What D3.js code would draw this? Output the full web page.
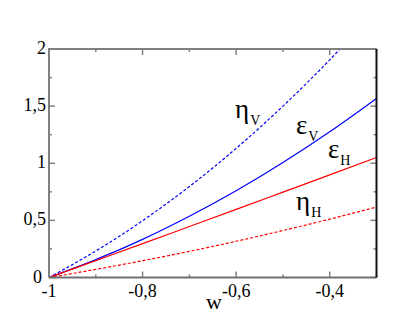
<!DOCTYPE html>
<html><head><meta charset="utf-8">
<script src="https://cdn.jsdelivr.net/npm/d3@7"></script>
<style>body{margin:0;background:#fff}svg{display:block}text{font-family:"Liberation Serif","Times New Roman",serif}</style>
</head><body>
<script>
const wValues = [-1, -0.9, -0.8, -0.7, -0.6, -0.5, -0.4, -0.3];
const etaV = [0, 0.232, 0.497, 0.796, 1.130, 1.500, 1.905, 2.35];
const epsV = [0, 0.156, 0.334, 0.536, 0.759, 1.006, 1.275, 1.567];
const epsH = [0, 0.148, 0.296, 0.446, 0.596, 0.747, 0.898, 1.050];
const etaH = [0, 0.071, 0.147, 0.229, 0.317, 0.411, 0.511, 0.617];
const xTickVals = [-1, -0.8, -0.6, -0.4];
const xTickLabels = ["-1", "-0,8", "-0,6", "-0,4"];
const yTickVals = [0, 0.5, 1, 1.5, 2];
const yTickLabels = ["0", "0,5", "1", "1,5", "2"];

const W = 409, H = 327;
const L = 49, T = 49, R = 376.5, B = 277.5;
const svg = d3.select("body").append("svg").attr("width", W).attr("height", H);
const x = d3.scaleLinear().domain([-1, -0.3]).range([L, R]);
const y = d3.scaleLinear().domain([0, 2]).range([B, T]);

svg.append("clipPath").attr("id", "clip").append("rect")
  .attr("x", L).attr("y", T).attr("width", R - L).attr("height", B - T);

const series = [
  {v: etaV, color: "#0000ff", dash: "3,2"},
  {v: epsV, color: "#0000ff", dash: null},
  {v: epsH, color: "#ff0000", dash: null},
  {v: etaH, color: "#ff0000", dash: "3,2"}
];
const line = d3.line().x(d => x(d[0])).y(d => y(d[1])).curve(d3.curveMonotoneX);
const g = svg.append("g").attr("clip-path", "url(#clip)");
series.forEach(s => {
  g.append("path").datum(wValues.map((w, i) => [w, s.v[i]]))
    .attr("d", line).attr("fill", "none").attr("stroke", s.color)
    .attr("stroke-width", 1.2).attr("stroke-dasharray", s.dash);
});

// ticks
const minorX = [-0.9, -0.7, -0.5, -0.3];
const yMinor = [0.25, 0.75, 1.25, 1.75];
const tk = svg.append("g").attr("stroke", "#808080").attr("stroke-width", 1.5);
xTickVals.forEach(v => {
  tk.append("line").attr("x1", x(v)).attr("x2", x(v)).attr("y1", B).attr("y2", B - 6);
  tk.append("line").attr("x1", x(v)).attr("x2", x(v)).attr("y1", T).attr("y2", T + 6);
});
minorX.forEach(v => {
  tk.append("line").attr("x1", x(v)).attr("x2", x(v)).attr("y1", B).attr("y2", B - 3);
  tk.append("line").attr("x1", x(v)).attr("x2", x(v)).attr("y1", T).attr("y2", T + 3);
});
yTickVals.forEach(v => {
  tk.append("line").attr("x1", L).attr("x2", L + 6).attr("y1", y(v)).attr("y2", y(v));
  tk.append("line").attr("x1", R).attr("x2", R - 6).attr("y1", y(v)).attr("y2", y(v));
});
yMinor.forEach(v => {
  tk.append("line").attr("x1", L).attr("x2", L + 3).attr("y1", y(v)).attr("y2", y(v));
  tk.append("line").attr("x1", R).attr("x2", R - 3).attr("y1", y(v)).attr("y2", y(v));
});

// frame
svg.append("path").attr("d", `M${L},${B}V${T}H${R}`).attr("fill", "none").attr("stroke", "#808080").attr("stroke-width", 2);
svg.append("line").attr("x1", L).attr("x2", R).attr("y1", B).attr("y2", B).attr("stroke", "#707070").attr("stroke-width", 2);
svg.append("line").attr("x1", R).attr("x2", R).attr("y1", T).attr("y2", B).attr("stroke", "#111").attr("stroke-width", 2);

// tick labels
xTickVals.forEach((v, i) => {
  svg.append("text").attr("x", x(v)).attr("y", B + 19).attr("text-anchor", "middle")
    .attr("font-size", 18).text(xTickLabels[i]);
});
yTickVals.forEach((v, i) => {
  svg.append("text").attr("x", v === 0 ? L - 7 : L - 3).attr("y", y(v) + 5).attr("text-anchor", "end")
    .attr("font-size", 18).text(yTickLabels[i]);
});
svg.append("text").attr("x", 214).attr("y", 309).attr("text-anchor", "middle")
  .attr("font-size", 22).text("w");

// curve labels
function lab(px, py, main, sub) {
  const t = svg.append("text").attr("x", px).attr("y", py).attr("font-size", 27);
  t.append("tspan").text(main);
  t.append("tspan").attr("font-size", 14).attr("dy", 7).attr("dx", 1).text(sub);
}
lab(235, 118, "η", "V");
lab(296, 134, "ε", "V");
lab(328, 158, "ε", "H");
lab(296, 210, "η", "H");
</script>
</body></html>
